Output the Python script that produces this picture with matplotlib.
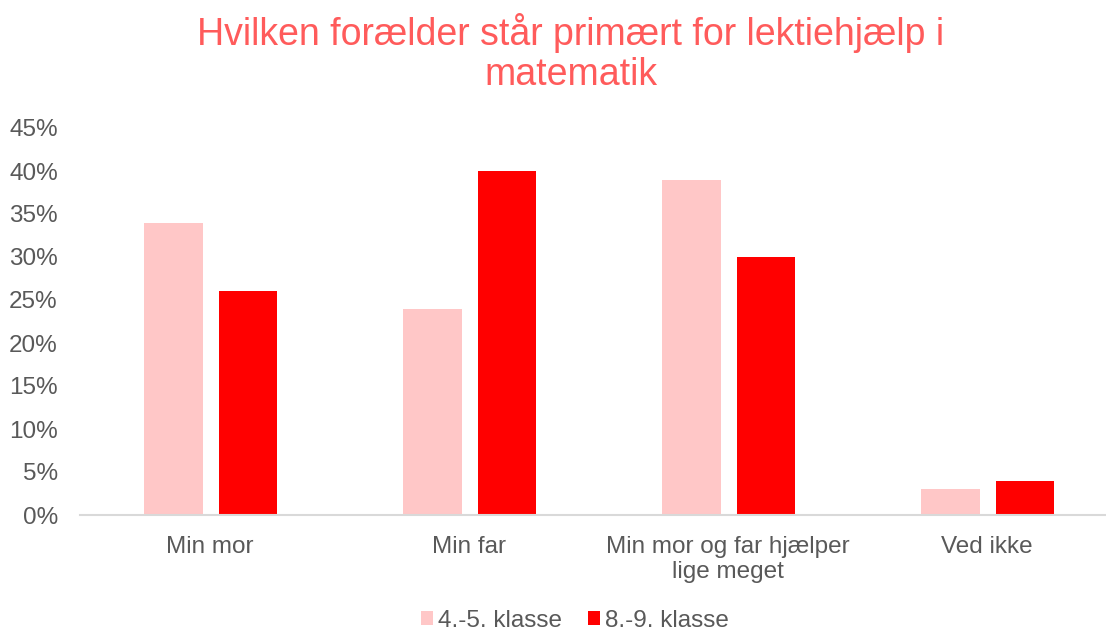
import matplotlib.pyplot as plt
import numpy as np
from matplotlib.ticker import PercentFormatter

plt.rcParams['font.family'] = ['Liberation Sans', 'DejaVu Sans']

# Data
categories = ['Min mor', 'Min far', 'Min mor og far hjælper\nlige meget', 'Ved ikke']
series_names = ['4.-5. klasse', '8.-9. klasse']
grade_4_5 = [0.34, 0.24, 0.39, 0.03]
grade_8_9 = [0.26, 0.40, 0.30, 0.04]

light = '#FFC7C7'
dark = '#FF0000'
text_grey = '#595959'

fig = plt.figure(figsize=(11.06, 6.32), dpi=100)
W, H = 1106, 632
ax = fig.add_axes([80 / W, (H - 515) / H, (1116 - 80) / W, (515 - 128) / H])

x = np.arange(len(categories))
bw = 0.224
off = 0.143
ax.bar(x + 0.004 - off, grade_4_5, bw, color=light, label=series_names[0])
ax.bar(x + 0.004 + off, grade_8_9, bw, color=dark, label=series_names[1])

ax.set_xlim(-0.5, 3.5)
ax.set_ylim(0, 0.45)
ax.set_yticks(np.arange(0, 0.46, 0.05))
ax.yaxis.set_major_formatter(PercentFormatter(1.0, decimals=0))
ax.set_xticks(x)
ax.set_xticklabels(categories, linespacing=1.2)

for s in ['top', 'right', 'left']:
    ax.spines[s].set_visible(False)
ax.spines['bottom'].set_color('#D9D9D9')
ax.spines['bottom'].set_linewidth(1.5)
ax.tick_params(axis='y', length=0, pad=16, labelsize=17.5, labelcolor=text_grey)
ax.tick_params(axis='x', length=0, pad=15, labelsize=17.5, labelcolor=text_grey)

fig.text(571 / W, 1 - 53 / H, 'Hvilken forælder står primært for lektiehjælp i\nmatematik',
         ha='center', va='center', fontsize=27, color='#FF5B5B', linespacing=1.15)

fig.legend(loc='center', bbox_to_anchor=(575 / W, 1 - 621 / H), ncol=2, frameon=False,
           fontsize=17.5, labelcolor=text_grey, handlelength=0.5, handleheight=0.5,
           handletextpad=0.2, columnspacing=1.05)

fig.savefig('out.png', dpi=100)
